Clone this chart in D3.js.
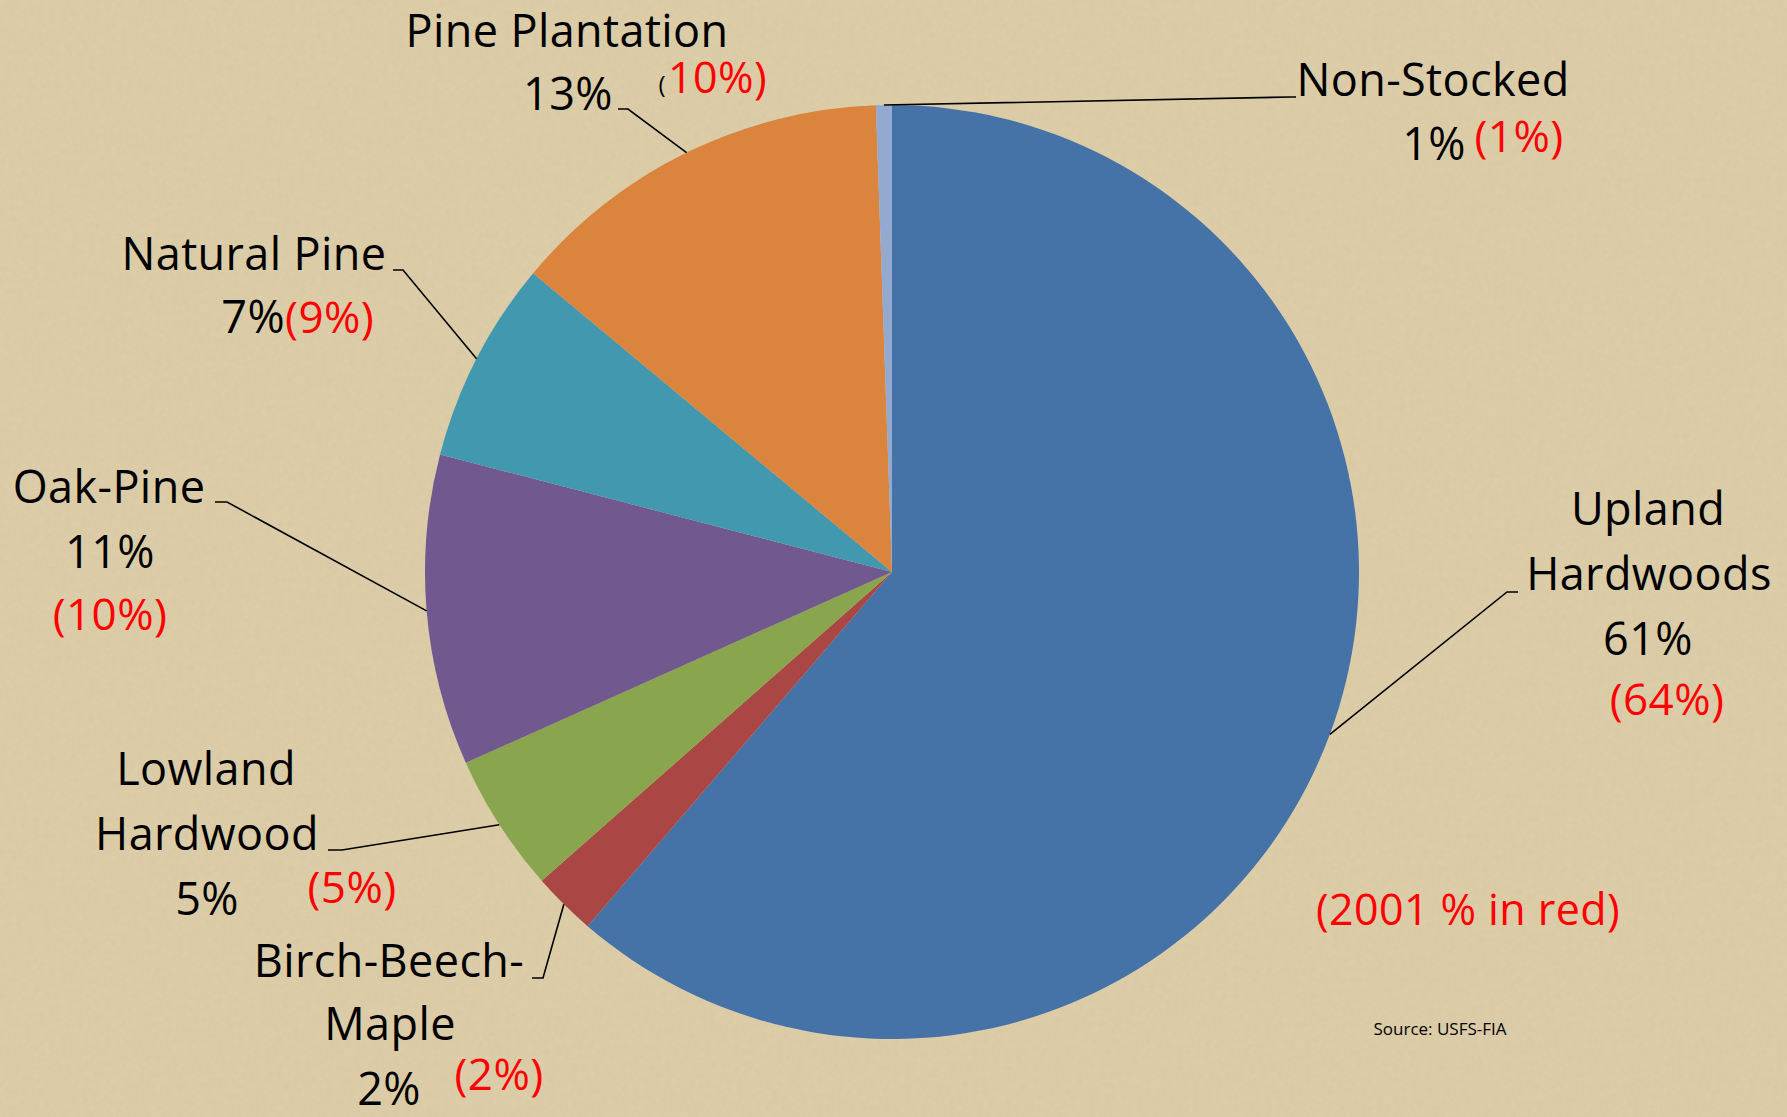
<!DOCTYPE html>
<html>
<head>
<meta charset="utf-8">
<script src="https://cdn.jsdelivr.net/npm/d3@7"></script>
<style>
  html, body { margin: 0; padding: 0; background: #dccda8; }
  #graphic { width: 1787px; height: 1117px; }
  text { font-family: "Open Sans", Lato, sans-serif; }
</style>
</head>
<body>
<div id="graphic"></div>
<script>
// forest type shares, clockwise from 12 o'clock
var categories = ["Upland Hardwoods", "Birch-Beech-Maple", "Lowland Hardwood", "Oak-Pine", "Natural Pine", "Pine Plantation", "Non-Stocked"];
var shares = [61.3, 2.2, 4.8, 10.75, 7.0, 13.4, 0.55];
var pctLabels = ["61%", "2%", "5%", "11%", "7%", "13%", "1%"];
var pct2001 = ["(64%)", "(2%)", "(5%)", "(10%)", "(9%)", "(10%)", "(1%)"];
var nameLines = [["Upland", "Hardwoods"], ["Birch-Beech-", "Maple"], ["Lowland", "Hardwood"], ["Oak-Pine"], ["Natural Pine"], ["Pine Plantation"], ["Non-Stocked"]];
var colors = ["#4572a7", "#aa4643", "#89a54e", "#71588f", "#4198af", "#db843d", "#93a9cf"];

var width = 1787, height = 1117;
var cx = 892, cy = 572, radius = 467;
var fontSize = 45;

// where each label sits (name lines, black %, red 2001 %) and its leader elbow
var layout = [
  {names: [[1648, 525], [1649, 590]], pct: [1648, 655, "middle"], red: [1667, 715, "middle"], elbow: [1507, 592], end: [1518, 592]},
  {names: [[389, 977], [390, 1040]], pct: [389, 1105, "middle"], red: [499, 1090, "middle"], elbow: [543, 978], end: [532, 978]},
  {names: [[206, 785], [207, 850]], pct: [207, 915, "middle"], red: [352, 903, "middle"], elbow: [342, 850], end: [328, 850]},
  {names: [[109, 503]], pct: [110, 568, "middle"], red: [110, 630, "middle"], elbow: [227, 502], end: [215, 502]},
  {names: [[254, 270]], pct: [285, 333, "end"], red: [285, 333, "start"], elbow: [403, 270], end: [393, 270]},
  {names: [[567, 47]], pct: [568, 110, "middle"], red: [668, 93, "start"], elbow: [628, 109], end: [618, 109]},
  {names: [[1433, 96]], pct: [1434, 160, "middle"], red: [1519, 152, "middle"], elbow: [1291, 97], end: [1296, 97]}
];

var svg = d3.select("#graphic").append("svg")
  .attr("width", width)
  .attr("height", height);

// paper texture
var defs = svg.append("defs");
var filt = defs.append("filter").attr("id", "paper").attr("x", 0).attr("y", 0).attr("width", "100%").attr("height", "100%");
filt.append("feTurbulence").attr("type", "fractalNoise").attr("baseFrequency", 0.18).attr("numOctaves", 3).attr("seed", 4).attr("result", "noise");
filt.append("feColorMatrix").attr("type", "matrix")
  .attr("values", "0 0 0 0 0.55  0 0 0 0 0.47  0 0 0 0 0.33  0 0 0 0.7 -0.25");

svg.append("rect").attr("width", width).attr("height", height).attr("fill", "#dccda8");
svg.append("rect").attr("width", width).attr("height", height).attr("filter", "url(#paper)").attr("opacity", 0.4);

var pie = d3.pie().sort(null).value(function(d) { return d; });
var arcs = pie(shares);
var arc = d3.arc().innerRadius(0).outerRadius(radius);

var g = svg.append("g").attr("transform", "translate(" + cx + "," + cy + ")");

g.selectAll(".slice").data(arcs).enter()
  .append("path")
  .attr("class", "slice")
  .attr("d", arc)
  .attr("fill", function(d, i) { return colors[i]; });

// leader lines from slice mid-angle on the rim
var lineGen = d3.line();
svg.selectAll(".leader").data(arcs).enter()
  .append("path")
  .attr("class", "leader")
  .attr("fill", "none")
  .attr("stroke", "#000")
  .attr("stroke-width", 1.6)
  .attr("d", function(d, i) {
    var a = (d.startAngle + d.endAngle) / 2;
    var p0 = [cx + radius * Math.sin(a), cy - radius * Math.cos(a)];
    return lineGen([p0, layout[i].elbow, layout[i].end]);
  });

// labels
var labels = svg.append("g").attr("letter-spacing", 0.4);
categories.forEach(function(c, i) {
  var L = layout[i];
  nameLines[i].forEach(function(line, j) {
    labels.append("text")
      .attr("x", L.names[j][0]).attr("y", L.names[j][1])
      .attr("text-anchor", "middle")
      .attr("font-size", fontSize)
      .attr("fill", "#000")
      .text(line);
  });
  labels.append("text")
    .attr("x", L.pct[0]).attr("y", L.pct[1])
    .attr("text-anchor", L.pct[2])
    .attr("font-size", fontSize)
    .attr("fill", "#000")
    .text(pctLabels[i]);
  if (c == "Pine Plantation") {
    // small black paren, then the rest in red
    labels.append("text")
      .attr("x", L.red[0] - 2).attr("y", L.red[1])
      .attr("text-anchor", "end")
      .attr("font-size", 24)
      .attr("fill", "#000")
      .text("(");
    labels.append("text")
      .attr("x", L.red[0]).attr("y", L.red[1])
      .attr("text-anchor", "start")
      .attr("font-size", 43)
      .attr("fill", "#ff0000")
      .text(pct2001[i].slice(1));
  } else {
    labels.append("text")
      .attr("x", L.red[0]).attr("y", L.red[1])
      .attr("text-anchor", L.red[2])
      .attr("font-size", 44)
      .attr("fill", "#ff0000")
      .text(pct2001[i]);
  }
});

labels.append("text")
  .attr("x", 1468).attr("y", 925)
  .attr("text-anchor", "middle")
  .attr("font-size", 43)
  .attr("fill", "#ff0000")
  .text("(2001 % in red)");

svg.append("text")
  .attr("x", 1440).attr("y", 1035)
  .attr("text-anchor", "middle")
  .attr("font-size", 17)
  .attr("fill", "#000")
  .text("Source: USFS-FIA");
</script>
</body>
</html>
